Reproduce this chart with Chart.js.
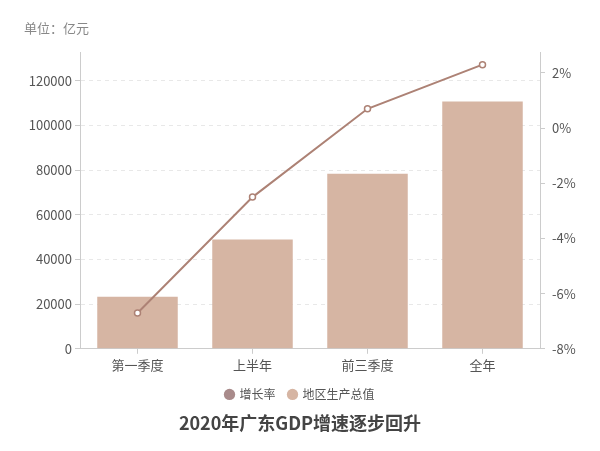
<!DOCTYPE html>
<html>
<head>
<meta charset="utf-8">
<script src="https://cdn.jsdelivr.net/npm/chart.js@4/dist/chart.umd.min.js"></script>
<style>
  html, body { margin: 0; padding: 0; background: #fff; }
  #wrap { width: 600px; height: 451px; position: relative; }
</style>
</head>
<body>
<div id="wrap"><canvas id="c"></canvas></div>
<script>
// ---- data ----
const categories = ['第一季度', '上半年', '前三季度', '全年'];
const gdpValues = [23304.72, 48983.97, 78397.19, 110760.94];   // 地区生产总值 (亿元)
const growthRates = [-6.7, -2.5, 0.7, 2.3];                    // 增长率 (%)
const leftTicks = [0, 20000, 40000, 60000, 80000, 100000, 120000];
const rightTicks = [-8, -6, -4, -2, 0, 2];
const leftMax = 132913;
const rightMax = 2.76;

const lineColor = '#ad8275';
const legendLineColor = '#a98b8b';
const barColor = '#d6b5a3';
const fontFamily = "'Noto Sans CJK SC', 'Noto Sans', sans-serif";

Chart.defaults.font.family = fontFamily;
Chart.defaults.color = '#555';

const unitPlugin = {
  id: 'unitLabel',
  afterDraw(chart) {
    const ctx = chart.ctx;
    ctx.save();
    ctx.font = '13px ' + fontFamily;
    ctx.fillStyle = '#888';
    ctx.textBaseline = 'middle';
    ctx.textAlign = 'left';
    ctx.fillText('单位：亿元', 24, 28);
    ctx.restore();
  }
};

new Chart(document.getElementById('c'), {
  type: 'bar',
  data: {
    labels: categories,
    datasets: [
      {
        type: 'line',
        label: '增长率',
        data: growthRates,
        yAxisID: 'y1',
        borderColor: lineColor,
        backgroundColor: '#fff',
        borderWidth: 2,
        pointRadius: 3,
        pointBorderWidth: 1.5,
        pointBackgroundColor: '#fff',
        pointBorderColor: lineColor,
        tension: 0
      },
      {
        type: 'bar',
        label: '地区生产总值',
        data: gdpValues,
        yAxisID: 'y',
        backgroundColor: barColor,
        categoryPercentage: 1,
        barPercentage: 0.7
      }
    ]
  },
  options: {
    responsive: true,
    maintainAspectRatio: false,
    animation: false,
    layout: { padding: { top: 52, left: 0, right: 0, bottom: 0 } },
    plugins: {
      tooltip: { enabled: false },
      legend: {
        position: 'bottom',
        labels: {
          usePointStyle: true,
          boxWidth: 8,
          boxHeight: 8,
          padding: 13,
          color: '#555',
          font: { size: 12 },
          generateLabels(chart) {
            const cols = [legendLineColor, barColor];
            return Chart.defaults.plugins.legend.labels.generateLabels(chart).map((l, i) => ({
              ...l, fillStyle: cols[i], strokeStyle: cols[i], lineWidth: 0, pointStyle: 'circle'
            }));
          }
        }
      },
      title: {
        display: true,
        position: 'bottom',
        text: '2020年广东GDP增速逐步回升',
        color: '#444',
        font: { size: 18, weight: 'bold' },
        padding: { top: 2, bottom: 17 }
      }
    },
    scales: {
      x: {
        offset: true,
        grid: { display: true, drawOnChartArea: false, offset: false, tickLength: 5, color: '#ccc' },
        border: { color: '#ccc' },
        ticks: { color: '#555', font: { size: 13 }, padding: 3, maxRotation: 0 }
      },
      y: {
        position: 'left',
        min: 0,
        max: leftMax,
        afterFit(s) { s.width = 80; },
        afterBuildTicks(s) { s.ticks = leftTicks.map(v => ({ value: v })); },
        grid: { color: '#e8e8e8', tickColor: '#ccc', tickLength: 5 },
        border: { color: '#ccc', dash: [4, 4] },
        ticks: { color: '#555', font: { size: 13 }, padding: 3, callback: v => String(v) }
      },
      y1: {
        position: 'right',
        min: -8,
        max: rightMax,
        afterFit(s) { s.width = 60; },
        afterBuildTicks(s) { s.ticks = rightTicks.map(v => ({ value: v })); },
        grid: { drawOnChartArea: false, color: '#ccc', tickLength: 5 },
        border: { color: '#ccc' },
        ticks: { color: '#555', font: { size: 13 }, padding: 7, callback: v => v + '%' }
      }
    }
  },
  plugins: [unitPlugin]
});
</script>
</body>
</html>
